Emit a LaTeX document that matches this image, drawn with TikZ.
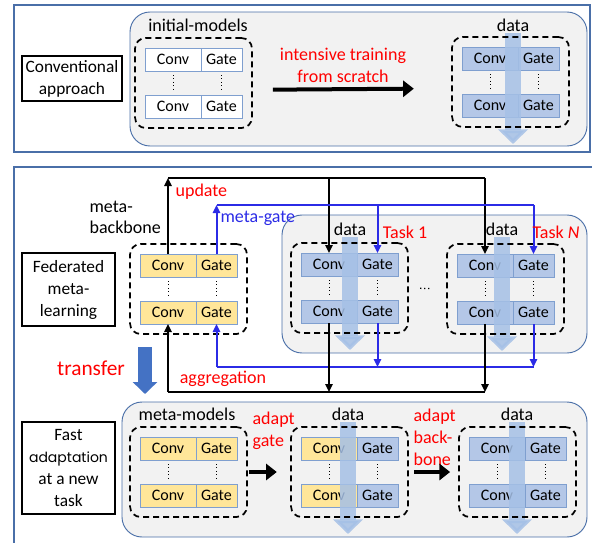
\documentclass[tikz,border=0pt]{standalone}
\usepackage{fontspec}
\setmainfont{Carlito}
\newfontfamily\geofont{Poppins}
\usetikzlibrary{arrows.meta, positioning, fit, calc}
\definecolor{panelline}{HTML}{4A6FA8}
\definecolor{panelfill}{HTML}{F2F2F2}
\definecolor{layerline}{HTML}{7F9FCF}
\definecolor{layerblue}{HTML}{B4C7E7}
\definecolor{layeryellow}{HTML}{FFE699}
\definecolor{dataflowc}{HTML}{A5C0E6}
\definecolor{xferblue}{HTML}{4472C4}
\definecolor{gatewire}{HTML}{2B2BE6}
\definecolor{notered}{HTML}{FF0000}
\tikzset{
  outerframe/.style = {draw=panelline, line width=1.1pt},
  panel/.style      = {draw=panelline, fill=panelfill, line width=0.7pt, rounded corners=15pt},
  lyr/.style        = {draw=layerline, line width=0.6pt, inner sep=0pt, outer sep=0pt,
                       minimum height=17.25pt, font=\fontsize{12}{13}\selectfont},
  convbox/.style    = {lyr, minimum width=42pt},
  gatebox/.style    = {lyr, minimum width=30.75pt},
  layerdots/.style  = {dotted, line width=0.6pt, shorten <=3pt, shorten >=3pt},
  mframe/.style     = {draw, dash pattern=on 4.5pt off 3pt, line width=1.3pt,
                       rounded corners=8pt, inner sep=7.5pt},
  sidebox/.style    = {draw, line width=1.1pt, align=center, inner sep=1pt,
                       font=\fontsize{13}{16.5}\selectfont},
  headtxt/.style    = {inner sep=1pt, font=\fontsize{13.5}{16}\selectfont},
  note/.style       = {inner sep=1pt, text=notered, font=\fontsize{13.5}{16.5}\selectfont},
  dataflow/.style   = {draw=dataflowc, opacity=0.85, line width=12pt,
                       -{Triangle[width=22pt,length=11pt]}},
  xfer/.style       = {draw=xferblue, line width=10.5pt, -{Triangle[width=18pt,length=9pt]}},
  bigarrow/.style   = {line width=3pt, -{Triangle[width=12pt,length=8pt]}},
  link/.style       = {line width=1.5pt, -{Triangle[width=5.5pt,length=6pt]}},
  wire/.style       = {line width=1.5pt},
}

\begin{document}
\begin{tikzpicture}[x=0.75pt, y=-0.75pt]
  \useasboundingbox (0,0) rectangle (592,543);

  % frames and grey panels
  \draw[outerframe] (14,5) rectangle (590,152);
  \draw[outerframe] (592,167) -- (14,167) -- (14,543);
  \draw[panel] (130,12) rectangle (587,146);
  \draw[panel] (282,215) rectangle (587,353);
  \draw[panel] (122,402) rectangle (587,537);

  % row labels
  \node[sidebox, minimum width=75pt, minimum height=33.75pt] (sconv) at (72,78.5)
      {Conventional\\approach};
  \node[sidebox, minimum width=69.75pt, minimum height=54.75pt] (sfed) at (68.5,289.5)
      {Federated\\meta-\\learning};
  \node[sidebox, minimum width=69.75pt, minimum height=69pt] (sfast) at (68.5,468)
      {Fast\\{\geofont\fontsize{10.5}{16.5}\selectfont adaptation}\\at a new\\task};

  % conv/gate stacks
  \foreach \m/\x/\y/\cf/\gf in {a/145/48/white/white, b/462/47/layerblue/layerblue,
      c/140/254/layeryellow/layeryellow, d/301/253/layerblue/layerblue,
      e/457/254/layerblue/layerblue, f/140/437/layeryellow/layeryellow,
      g/301/437/layeryellow/layerblue, h/469/437/layerblue/layerblue}{
    \node[convbox, fill=\cf, anchor=north west] (\m1) at (\x,\y) {Conv};
    \node[gatebox, fill=\gf, right=0pt of \m1] (\m1g) {Gate};
    \node[convbox, fill=\cf, below=18pt of \m1] (\m2) {Conv};
    \node[gatebox, fill=\gf, right=0pt of \m2] (\m2g) {Gate};
    \draw[layerdots] (\m1) -- (\m2);
    \draw[layerdots] (\m1g) -- (\m2g);
  }

  \node[headtxt] (inita) at (198,25) {initial-models};
  \node[headtxt] (datb) at (513,25) {data};
  \node[headtxt] (datd) at (350,229) {data};
  \node[headtxt] (date) at (502,229) {data};
  \node[headtxt] (metaf) at (187,414) {meta-models};
  \node[headtxt] (datg) at (348,414) {data};
  \node[headtxt] (dath) at (517,414) {data};

  % data flowing through the stacks
  \foreach \m in {b,d,e,g,h}
    \draw[dataflow] (dat\m.south) -- ($(dat\m.south |- \m2.south)+(0,27)$);

  \foreach \m in {a,b,c,d,e,f,g,h}
    \node[mframe, fit=(\m1)(\m2g)] (fr\m) {};

  \draw[dotted, line width=1pt] ($(frd.east)!0.3!(fre.west)$) -- ($(frd.east)!0.6!(fre.west)$);

  % update of the meta-backbone
  \coordinate (upd) at (0,178);
  \coordinate (mgt) at (0,205);
  \coordinate (agg) at (0,367);
  \coordinate (bkb) at (0,392);
  \draw[link] (c1.north) -- (c1 |- upd);
  \draw[wire] (c1 |- upd) -- (e1 |- upd);
  \draw[link] (d1 |- upd) -- (d1.north);
  \draw[link] (e1 |- upd) -- (e1.north);
  \draw[link, gatewire] (c1g.north) -- (c1g |- mgt);
  \draw[wire, gatewire] (c1g |- mgt) -- (e1g |- mgt);
  \draw[link, gatewire] (d1g |- mgt) -- (d1g.north);
  \draw[link, gatewire] (e1g |- mgt) -- (e1g.north);

  % aggregation
  \draw[link, gatewire] (d2g.south) -- (d2g |- agg);
  \draw[link, gatewire] (e2g.south) -- (e2g |- agg);
  \draw[wire, gatewire] (c2g |- agg) -- (e2g |- agg);
  \draw[link, gatewire] (c2g |- agg) -- (c2g.south);
  \draw[link] (d2.south) -- (d2 |- bkb);
  \draw[link] (e2.south) -- (e2 |- bkb);
  \draw[wire] (c2 |- bkb) -- (e2 |- bkb);
  \draw[link] (c2 |- bkb) -- (c2.south);

  \node[note, anchor=west] (lupd) at (174,192) {update};
  \node[note, text=gatewire, anchor=west] (lmgt) at (219,218) {meta-gate};
  \node[headtxt, align=left, anchor=west] (lbkb) at (88,217.5) {meta-\\backbone};
  \node[note] (lagg) at (223,379) {aggregation};
  \node[note] (ltk1) at (405,232) {Task 1};
  \node[note] (ltkn) at (556,232) {Task \textit{N}};
  \node[note, align=center] (lint) at (343,65) {intensive training\\from scratch};
  \node[note, font=\fontsize{16}{18}\selectfont] (lxfer) at (91,368) {transfer};
  \node[note, align=left, anchor=west] (ladg) at (251,431) {adapt\\gate};
  \node[note, align=left, anchor=west] (ladb) at (412,437) {adapt\\back-\\bone};

  % main arrows
  \draw[bigarrow] ([xshift=15pt,yshift=-5pt]fra.east) -- ([xshift=-28pt,yshift=-5pt]frb.west);
  \draw[bigarrow] ([xshift=0.5pt]frf.east) -- ([xshift=-10pt]frg.west);
  \draw[bigarrow] ([xshift=4pt]frg.east) -- ([xshift=-6pt]frh.west);
  \coordinate (xf0) at (145,347);
  \coordinate (xf1) at (145,394);
  \draw[xfer] (xf0) -- (xf1);
\end{tikzpicture}
\end{document}
